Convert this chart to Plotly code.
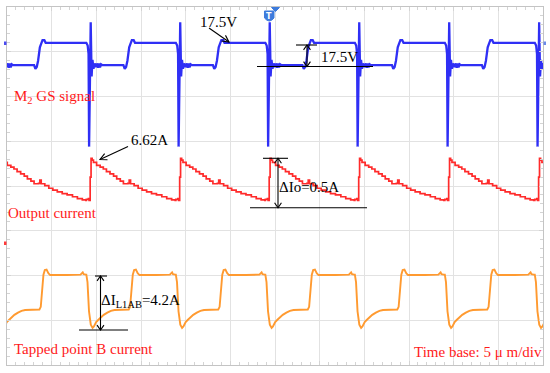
import math
import plotly.graph_objects as go

# ---------------- data ----------------
# time axis in microseconds (5 us/div, 12 div), vertical in divisions (8 div)
spike_times = [-0.77, 9.23, 19.25, 29.27, 39.29, 49.36, 59.43]  # M2 switching instants

# one switching period of each trace, time relative to the switching instant
gs_rel_t = [-0.35, -0.20, -0.10, -0.04, 0.06, 0.14, 0.24, 0.34, 0.45, 0.58, 0.75, 0.90,
            0.98, 1.08, 1.18, 1.30, 1.45, 3.80, 3.95, 4.10, 4.25, 4.45, 4.60, 4.75,
            4.95, 5.10, 9.60]
gs_val = [7.20, 7.14, 6.95, 4.88, 6.45, 7.66, 6.45, 6.82, 6.62, 6.74, 6.66, 6.74,
          6.64, 6.74, 6.65, 6.72, 6.70, 6.70, 6.62, 6.66, 6.80, 7.10, 7.18, 7.26,
          7.26, 7.20, 7.20]

io_rel_t = [-0.35, -0.12, -0.04, 0.08, 0.18, 0.30, 0.45, 0.80, 1.20, 1.55, 1.90, 2.30,
            2.70, 3.05, 3.45, 3.80, 4.30, 4.45, 4.60, 5.00, 5.45, 5.90, 6.40, 6.95,
            7.50, 8.10, 8.65, 9.20, 9.60]
io_val = [3.70, 3.72, 3.68, 4.20, 4.62, 4.58, 4.53, 4.46, 4.42, 4.38, 4.32, 4.27,
          4.22, 4.16, 4.11, 4.05, 4.06, 4.13, 4.05, 4.01, 3.95, 3.91, 3.87, 3.83,
          3.80, 3.76, 3.72, 3.69, 3.68]

ib_rel_t = [-0.35, -0.22, -0.05, 0.15, 0.35, 0.50, 0.75, 1.00, 1.30, 1.60, 2.00, 2.40,
            2.80, 3.50, 4.40, 4.55, 4.70, 4.85, 5.00, 5.20, 5.40, 5.60, 7.50, 9.00,
            9.25, 9.35, 9.60]
ib_val = [2.02, 1.85, 1.20, 0.90, 0.83, 0.86, 0.96, 1.01, 1.07, 1.12, 1.17, 1.21,
          1.23, 1.23, 1.24, 1.30, 1.62, 2.02, 2.12, 2.13, 2.05, 2.01, 2.01, 2.02,
          2.07, 2.03, 2.02]

labels = {
    "gs": "M<sub>2</sub> GS signal",
    "io": "Output current",
    "ib": "Tapped point B current",
    "tb": "Time base: 5 \u03bc m/div",
}
meas = {
    "v1": "17.5V",
    "v2": "17.5V",
    "ipk": "6.62A",
    "dio": "\u0394Io=0.5A",
    "dib": "\u0394I<sub>L1AB</sub>=4.2A",
}


def periodic(rel_t, vals):
    xs, ys = [], []
    for s in spike_times:
        for r, v in zip(rel_t, vals):
            xs.append(s + r)
            ys.append(v)
    return xs, ys


gx, gy = periodic(gs_rel_t, gs_val)
ox, oy = periodic(io_rel_t, io_val)
bx, by = periodic(ib_rel_t, ib_val)

# ---------------- figure ----------------
W, H = 550, 373
L, R, T, B = 7, 543, 7, 365


def PX(px):
    return (px - L) / (R - L)


def PY(py):
    return (B - py) / (B - T)


fig = go.Figure()
fig.add_trace(go.Scatter(x=gx, y=gy, mode="lines",
                         line=dict(color="#2f2ff5", width=2.3), hoverinfo="skip"))
fig.add_trace(go.Scatter(x=ox, y=oy, mode="lines", line_shape="hv",
                         line=dict(color="#ff2b2b", width=1.7), hoverinfo="skip"))
fig.add_trace(go.Scatter(x=bx, y=by, mode="lines",
                         line=dict(color="#ff9a30", width=1.9), hoverinfo="skip"))

shapes = []


def seg(x0, y0, x1, y1, color="black", w=1.1):
    shapes.append(dict(type="line", xref="paper", yref="paper",
                       x0=PX(x0), y0=PY(y0), x1=PX(x1), y1=PY(y1),
                       line=dict(color=color, width=w)))


def head(tx, ty, fx, fy, Lh=7.5, ang=27):
    dx, dy = fx - tx, fy - ty
    n = math.hypot(dx, dy)
    ux, uy = dx / n, dy / n
    pts = []
    for a in (ang, -ang):
        ra = math.radians(a)
        vx = ux * math.cos(ra) - uy * math.sin(ra)
        vy = ux * math.sin(ra) + uy * math.cos(ra)
        pts.append((tx + Lh * vx, ty + Lh * vy))
    path = "M %f,%f L %f,%f L %f,%f" % (PX(pts[0][0]), PY(pts[0][1]), PX(tx), PY(ty),
                                        PX(pts[1][0]), PY(pts[1][1]))
    shapes.append(dict(type="path", xref="paper", yref="paper", path=path,
                       line=dict(color="black", width=1.1)))


# 17.5V pointer (top)
seg(209, 28, 229, 42)
head(229, 42, 209, 28)
# 17.5V dimension
seg(296, 45, 317, 45)
seg(257, 66.5, 373, 66.5)
seg(307, 45, 307, 66.5)
head(307, 45, 307, 66.5, Lh=6, ang=35)
head(307, 66.5, 307, 45, Lh=6, ang=35)
# 6.62A pointer
seg(128, 146.5, 100, 159.5)
head(100, 159.5, 128, 146.5)
# dIo dimension
seg(263, 158.3, 288, 158.3)
seg(250, 207.7, 367, 207.7)
seg(278, 158.3, 278, 207.7)
head(278, 158.3, 278, 207.7, Lh=6, ang=35)
head(278, 207.7, 278, 158.3, Lh=6, ang=35)
# dI L1AB dimension
seg(95, 276, 107, 276)
seg(79, 330, 128, 330)
seg(100.5, 276, 100.5, 330)
head(100.5, 276, 100.5, 330, Lh=6, ang=35)
head(100.5, 330, 100.5, 276, Lh=6, ang=35)

# trigger icon and channel markers
shapes.append(dict(type="path", xref="paper", yref="paper",
                   path="M %f,%f L %f,%f L %f,%f Q %f,%f %f,%f Z" % (
                       PX(264.5), PY(11), PX(274), PY(11), PX(274), PY(18),
                       PX(269.3), PY(24), PX(264.5), PY(18)),
                   fillcolor="#3d7bdc", line=dict(color="#3d7bdc", width=1)))
shapes.append(dict(type="path", xref="paper", yref="paper",
                   path="M %f,%f L %f,%f L %f,%f Z" % (PX(271.5), PY(7.5), PX(279.5), PY(7.5),
                                                      PX(275.5), PY(11.5)),
                   fillcolor="#3d7bdc", line=dict(color="#3d7bdc", width=1)))
shapes.append(dict(type="rect", xref="paper", yref="paper",
                   x0=PX(4), x1=PX(6.5), y0=PY(45), y1=PY(41.5),
                   fillcolor="#4a4af0", line=dict(width=0)))
shapes.append(dict(type="rect", xref="paper", yref="paper",
                   x0=PX(4), x1=PX(6.5), y0=PY(245), y1=PY(241.5),
                   fillcolor="#ff3a3a", line=dict(width=0)))
shapes.append(dict(type="rect", xref="paper", yref="paper",
                   x0=PX(543.5), x1=PX(546), y0=PY(45), y1=PY(41.5),
                   fillcolor="#6a8ae8", line=dict(width=0)))

SERIF = "Liberation Serif, Times New Roman, serif"
ann = []


def txt(s, px, py, color, size=15, anchor="left"):
    ann.append(dict(text=s, xref="paper", yref="paper", x=PX(px), y=PY(py),
                    xanchor=anchor, yanchor="middle", showarrow=False,
                    font=dict(family=SERIF, size=size, color=color)))


txt(labels["gs"], 12, 97, "#ff1a1a")
txt(labels["io"], 6, 213, "#ff1a1a")
txt(labels["ib"], 12, 349, "#ff1a1a")
txt(labels["tb"], 544, 352, "#ff1a1a", anchor="right")
txt(meas["v1"], 198, 22, "black")
txt(meas["v2"], 319, 57, "black")
txt(meas["ipk"], 129, 140, "black")
txt(meas["dio"], 277, 187, "black")
txt(meas["dib"], 99, 301, "black")
ann.append(dict(text="<b>T</b>", xref="paper", yref="paper", x=PX(269.3), y=PY(16),
                xanchor="center", yanchor="middle", showarrow=False,
                font=dict(family="DejaVu Sans", size=8, color="white")))

GRID = "#e2e2e2"
axis_common = dict(showticklabels=False, zeroline=False, showgrid=True,
                   gridcolor=GRID, gridwidth=1, showline=True, linecolor="#c4c4c4",
                   linewidth=1, mirror="ticks", ticks="inside", ticklen=4,
                   tickcolor="#d4d4d4", fixedrange=True)

fig.update_layout(
    width=W, height=H,
    margin=dict(l=L, r=W - R, t=T, b=H - B),
    paper_bgcolor="white", plot_bgcolor="white",
    showlegend=False,
    xaxis=dict(range=[0, 60], dtick=5, tick0=0,
               minor=dict(dtick=1, ticks="inside", ticklen=3, tickcolor="#d4d4d4",
                          showgrid=False),
               **axis_common),
    yaxis=dict(range=[0, 8], dtick=1, tick0=0,
               minor=dict(dtick=0.2, ticks="inside", ticklen=3, tickcolor="#d4d4d4",
                          showgrid=False),
               **axis_common),
    shapes=shapes,
    annotations=ann,
)

fig.write_html("out.html", config={"displayModeBar": False},
               post_script="document.body.style.margin='0px';document.body.style.overflow='hidden';")
